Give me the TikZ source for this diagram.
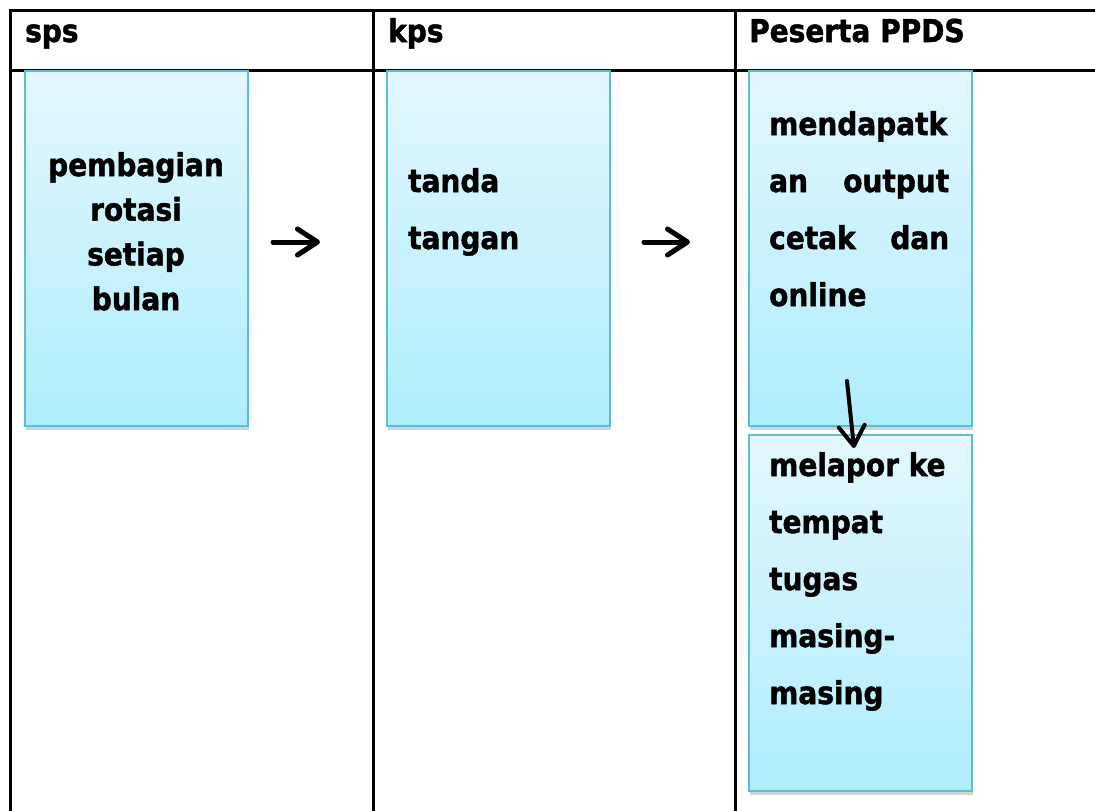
\documentclass[tikz,border=0pt]{standalone}
\usepackage{fontspec}
\setmainfont{DejaVu Sans}[BoldFeatures={FakeBold=1.6}]
\usetikzlibrary{arrows.meta,shadows}

\definecolor{boxtop}{HTML}{E3F7FD}
\definecolor{boxbot}{HTML}{AFEDFD}
\definecolor{boxedge}{HTML}{5BBDD6}
\definecolor{shade}{HTML}{D3D3D3}

\tikzset{
  grid/.style={line width=3pt, black, line cap=rect},
  lane/.style={rectangle, draw=boxedge, line width=2.2pt,
    top color=boxtop, bottom color=boxbot, inner sep=0pt,
    anchor=north west, minimum width=223pt,
    drop shadow={shadow xshift=1pt, shadow yshift=-3.5pt, fill=shade, opacity=1}},
  txt/.style={font=\bfseries\fontsize{28}{34}\selectfont, inner sep=0pt,
    anchor=base west, yscale=1.12, transform shape},
  flow/.style={line width=5pt, line cap=round,
    -{Straight Barb[length=20pt,width=26pt,line cap=round,line join=round]}},
  flowshade/.style={flow, draw=shade},
}

\begin{document}
\begin{tikzpicture}[x=1pt, y=-1pt]
  \useasboundingbox (0,0) rectangle (1095,811);

  % table frame
  \draw[grid] (1095,10) -- (10,10) -- (10,811);
  \draw[grid] (10,70) -- (1095,70);
  \draw[grid] (373,10) -- (373,811);
  \draw[grid] (735,10) -- (735,811);

  % column headings
  \node[txt] (h1) at (25,42) {sps};
  \node[txt] (h2) at (388,42) {kps};
  \node[txt] (h3) at (749,42) {Peserta PPDS};

  % process boxes
  \node[lane, minimum height=355pt] (b1) at (24,70) {};
  \node[lane, minimum height=355pt] (b2) at (386,70) {};
  \node[lane, minimum height=355pt] (b3) at (748,70) {};
  \node[lane, minimum height=356pt] (b4) at (748,434) {};

  % box texts
  \foreach \t [count=\i] in {pembagian, rotasi, setiap, bulan}
    \node[txt, anchor=base] (t1-\i) at (136,{176+44.7*(\i-1)}) {\t};
  \foreach \t [count=\i] in {tanda, tangan}
    \node[txt] (t2-\i) at (408,{192+57*(\i-1)}) {\t};
  \foreach \t [count=\i] in {mendapatk, {\hbox to 180pt{an\hfill output}},
      {\hbox to 180pt{cetak\hfill dan}}, online}
    \node[txt] (t3-\i) at (769,{135+57*(\i-1)}) {\t};
  \foreach \t [count=\i] in {melapor ke, tempat, tugas, masing-, masing}
    \node[txt] (t4-\i) at (769,{476+57*(\i-1)}) {\t};

  % connectors
  \coordinate (p1) at (273,242);
  \coordinate (q1) at (320,242);
  \coordinate (p2) at (644,242);
  \coordinate (q2) at (690,242);
  \coordinate (p3) at (847,381);
  \coordinate (q3) at (854,448);

  \begin{scope}[shift={(1.5,2.5)}]
    \draw[flowshade] (p1) -- (q1);
    \draw[flowshade] (p2) -- (q2);
    \draw[flowshade, line width=4pt] (p3) -- (q3);
  \end{scope}
  \draw[flow] (p1) -- (q1);
  \draw[flow] (p2) -- (q2);
  \draw[flow, line width=4pt] (p3) -- (q3);
\end{tikzpicture}
\end{document}
